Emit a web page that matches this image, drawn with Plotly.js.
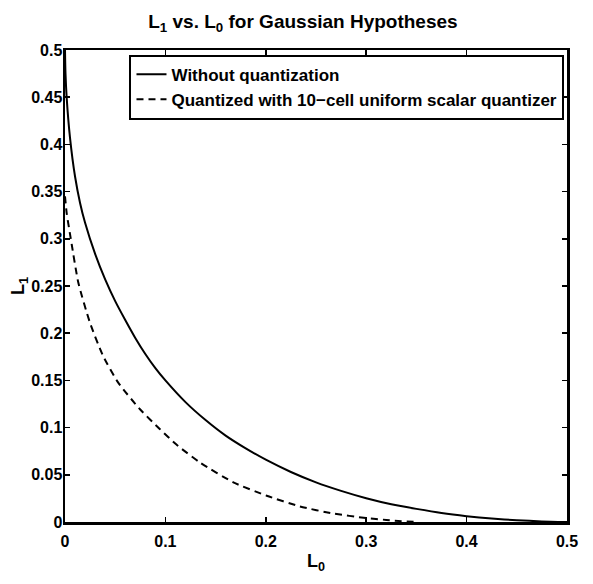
<!DOCTYPE html>
<html>
<head>
<meta charset="utf-8">
<script src="https://cdn.plot.ly/plotly-3.0.1.min.js"></script>
<style>html,body{margin:0;padding:0;background:#fff;}#chart{width:593px;height:584px;}</style>
</head>
<body>
<div id="chart"></div>
<script>
// Without quantization
var l0Solid = [0, 0.0005, 0.0017, 0.005, 0.01, 0.015, 0.02, 0.03, 0.04, 0.05, 0.06, 0.07, 0.08, 0.09, 0.1, 0.12, 0.14, 0.16, 0.18, 0.2, 0.225, 0.25, 0.275, 0.3, 0.325, 0.35, 0.375, 0.4, 0.425, 0.45, 0.475, 0.5];
var l1Solid = [0.5, 0.475, 0.449, 0.407, 0.366, 0.338, 0.317, 0.284, 0.257, 0.234, 0.214, 0.195, 0.178, 0.163, 0.150, 0.127, 0.108, 0.0915, 0.078, 0.066, 0.053, 0.042, 0.0330, 0.0252, 0.0188, 0.0139, 0.0095, 0.0062, 0.0037, 0.0019, 0.0006, 0];
// Quantized with 10-cell uniform scalar quantizer
var l0Dash = [0, 0.0017, 0.005, 0.0067, 0.0133, 0.0249, 0.038, 0.053, 0.0747, 0.0946, 0.111, 0.1345, 0.1677, 0.2009, 0.234, 0.267, 0.3, 0.32, 0.335, 0.35];
var l1Dash = [0.345, 0.327, 0.305, 0.294, 0.2534, 0.211, 0.1758, 0.1477, 0.1194, 0.0983, 0.0820, 0.063, 0.042, 0.0278, 0.0165, 0.0090, 0.0042, 0.0022, 0.0009, 0];
var xTicks = [0, 0.1, 0.2, 0.3, 0.4, 0.5];
var xTickText = ['0', '0.1', '0.2', '0.3', '0.4', '0.5'];
var yTicks = [0, 0.05, 0.1, 0.15, 0.2, 0.25, 0.3, 0.35, 0.4, 0.45, 0.5];
var yTickText = ['0', '0.05', '0.1', '0.15', '0.2', '0.25', '0.3', '0.35', '0.4', '0.45', '0.5'];
var names = ['Without quantization', 'Quantized with 10\u2212cell uniform scalar quantizer'];

var FONT = '"Liberation Sans", Arial, Helvetica, sans-serif';

var traces = [
  {x: l0Solid, y: l1Solid, mode: 'lines', name: names[0], line: {color: '#000', width: 2, dash: 'solid', shape: 'spline', smoothing: 0.6}},
  {x: l0Dash, y: l1Dash, mode: 'lines', name: names[1], line: {color: '#000', width: 2, dash: '7px,5px', shape: 'spline', smoothing: 0.6}}
];

var axisCommon = {
  showgrid: false, zeroline: false, showline: true, linecolor: '#000', linewidth: 2.5,
  mirror: 'ticks', ticks: 'inside', ticklen: 5, tickwidth: 1.5, tickcolor: '#000',
  tickfont: {family: FONT, size: 16, color: '#000', weight: 'bold'}
};

var layout = {
  width: 593, height: 584,
  margin: {l: 65, r: 26, t: 50, b: 62},
  paper_bgcolor: '#fff', plot_bgcolor: '#fff',
  showlegend: true,
  title: {text: 'L<sub>1</sub> vs. L<sub>0</sub> for Gaussian Hypotheses', xref: 'paper', x: 0.474, xanchor: 'center', y: 0.964, yanchor: 'middle',
          font: {family: FONT, size: 19, color: '#000', weight: 'bold'}},
  xaxis: Object.assign({}, axisCommon, {range: [0, 0.5], tickvals: xTicks, ticktext: xTickText, ticklabelstandoff: 3,
          title: {text: 'L<sub>0</sub>', standoff: 6, font: {family: FONT, size: 18, color: '#000', weight: 'bold'}}}),
  yaxis: Object.assign({}, axisCommon, {range: [0, 0.5], tickvals: yTicks, ticktext: yTickText, ticklabelstandoff: -3,
          title: {text: 'L<sub>1</sub>', standoff: 0, font: {family: FONT, size: 18, color: '#000', weight: 'bold'}}}),
  legend: {x: 0.995, xanchor: 'right', y: 0.99, yanchor: 'top', bgcolor: '#fff', bordercolor: '#000', borderwidth: 2,
           font: {family: FONT, size: 17, color: '#000', weight: 'bold'}, tracegroupgap: 0}
};

Plotly.newPlot('chart', traces, layout, {staticPlot: true, displayModeBar: false});
</script>
</body>
</html>
